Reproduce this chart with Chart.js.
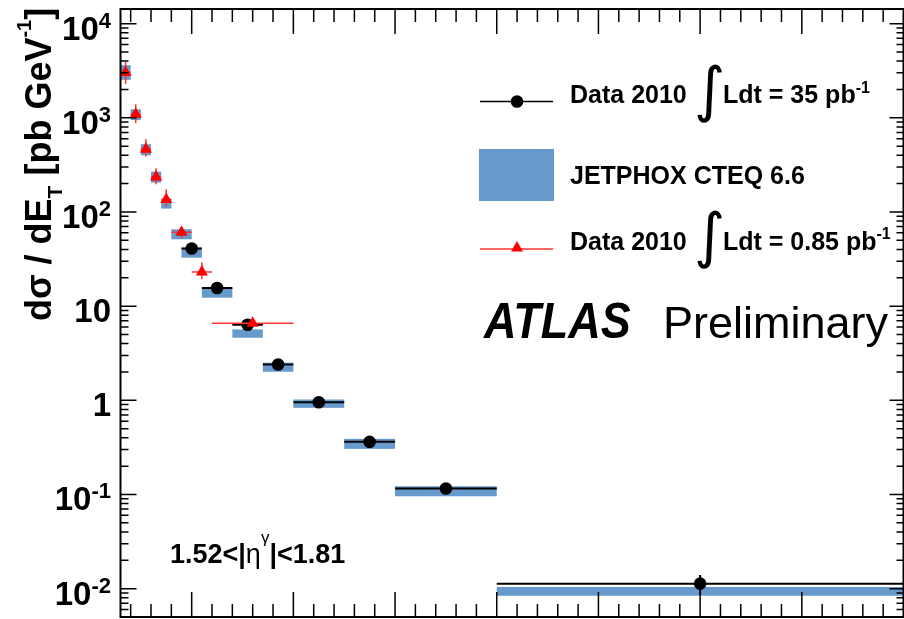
<!DOCTYPE html>
<html>
<head>
<meta charset="utf-8">
<script src="https://cdn.jsdelivr.net/npm/chart.js@4.4.1/dist/chart.umd.min.js"></script>
<style>
html, body { margin: 0; padding: 0; background: #fff; }
</style>
</head>
<body>
<canvas id="chart" width="904" height="619"></canvas>
<script>
// Data 2010, 35 pb-1 (E_T bins in GeV, d sigma / dE_T in pb/GeV)
const binLo35 = [45, 55, 70, 85, 100, 125, 150, 200];
const binHi35 = [55, 70, 85, 100, 125, 150, 200, 400];
const val35 = [41, 15.6, 6.35, 2.4, 0.955, 0.362, 0.1156, 0.0113];
const err35 = [1.2, 0.5, 0.22, 0.09, 0.04, 0.016, 0.006, 0.0027];

// Data 2010, 0.85 pb-1
const binLo085 = [15, 20, 25, 30, 35, 40, 50, 60];
const binHi085 = [20, 25, 30, 35, 40, 50, 60, 100];
const val085 = [3030, 1090, 463, 235, 136, 61, 23, 6.6];
const lo085 = [2280, 875, 387, 197, 114, 53, 19.3, 6.0];
const hi085 = [3930, 1390, 592, 292, 174, 69, 29.2, 7.3];

// JETPHOX CTEQ 6.6 band
const thLo = [15, 20, 25, 30, 35, 40, 45, 55, 70, 85, 100, 125, 150, 200];
const thHi = [20, 25, 30, 35, 40, 50, 55, 70, 85, 100, 125, 150, 200, 400];
const thMin = [2530, 948, 400, 205, 108.7, 51.3, 32.7, 12.3, 4.62, 2.01, 0.832, 0.305, 0.0957, 0.00841];
const thMax = [3620, 1233, 524, 268, 136.5, 65.5, 41.8, 15.7, 5.66, 2.51, 1.02, 0.39, 0.1222, 0.01042];

// axis ranges and tick labels
const xMin = 15, xMax = 400;
const yMin = 0.005, yMax = 14300;
const yDecades = [-2, -1, 0, 1, 2, 3, 4];

const BOLD = '"Liberation Sans", Arial, sans-serif';
const BLUE = '#6699cc';

function mid(lo, hi) {
    let out = [];
    for (let i = 0; i < lo.length; i++) out.push((lo[i] + hi[i]) / 2);
    return out;
}

const x35 = mid(binLo35, binHi35);
const x085 = mid(binLo085, binHi085);

// draw a list of text pieces one after the other
function richText(ctx, x, y, parts, align) {
    let w = 0;
    for (const p of parts) { ctx.font = p.f; w += ctx.measureText(p.t).width; }
    let cx = align === 'right' ? x - w : x;
    ctx.textAlign = 'left';
    ctx.textBaseline = 'alphabetic';
    for (const p of parts) {
        ctx.font = p.f;
        ctx.fillText(p.t, cx, y + (p.dy || 0));
        cx += ctx.measureText(p.t).width;
    }
}

const hepPlugin = {
    id: 'hep',
    beforeDatasetDraw(chart, args) {
        const ctx = chart.ctx;
        const x = chart.scales.x, y = chart.scales.y;
        ctx.save();
        if (args.index === 1) {
            // theory boxes
            ctx.fillStyle = BLUE;
            for (let i = 0; i < thLo.length; i++) {
                let x0 = x.getPixelForValue(thLo[i]), x1 = x.getPixelForValue(thHi[i]);
                let y0 = y.getPixelForValue(thMax[i]), y1 = y.getPixelForValue(thMin[i]);
                ctx.fillRect(x0, y0, x1 - x0, y1 - y0);
            }
            // 35 pb-1 error bars
            ctx.strokeStyle = '#000';
            ctx.lineWidth = 2;
            for (let i = 0; i < val35.length; i++) {
                let py = y.getPixelForValue(val35[i]);
                let px = x.getPixelForValue(x35[i]);
                ctx.beginPath();
                ctx.moveTo(x.getPixelForValue(binLo35[i]), py);
                ctx.lineTo(x.getPixelForValue(binHi35[i]), py);
                ctx.moveTo(px, y.getPixelForValue(val35[i] + err35[i]));
                ctx.lineTo(px, y.getPixelForValue(val35[i] - err35[i]));
                ctx.stroke();
            }
        } else {
            // 0.85 pb-1 error bars
            ctx.strokeStyle = '#ff3333';
            ctx.lineWidth = 1.5;
            for (let i = 0; i < val085.length; i++) {
                let py = y.getPixelForValue(val085[i]);
                let px = x.getPixelForValue(x085[i]);
                ctx.beginPath();
                ctx.moveTo(x.getPixelForValue(binLo085[i]), py);
                ctx.lineTo(x.getPixelForValue(binHi085[i]), py);
                ctx.moveTo(px, y.getPixelForValue(hi085[i]));
                ctx.lineTo(px, y.getPixelForValue(lo085[i]));
                ctx.stroke();
            }
        }
        ctx.restore();
    },
    afterDraw(chart) {
        const ctx = chart.ctx;
        const x = chart.scales.x, y = chart.scales.y;
        const a = chart.chartArea;
        ctx.save();
        ctx.strokeStyle = '#000';
        ctx.fillStyle = '#000';

        // ticks
        ctx.lineWidth = 1.5;
        ctx.beginPath();
        for (let v = 20; v < xMax; v += 10) {
            let px = x.getPixelForValue(v);
            let len = (v % 50 === 0) ? 25 : 13;
            ctx.moveTo(px, a.bottom); ctx.lineTo(px, a.bottom - len);
            ctx.moveTo(px, a.top); ctx.lineTo(px, a.top + len);
        }
        for (let k = -3; k <= 4; k++) {
            for (let m = 1; m <= 9; m++) {
                let v = m * Math.pow(10, k);
                if (v <= yMin * 1.001 || v >= yMax) continue;
                let py = y.getPixelForValue(v);
                let major = m === 1;
                ctx.moveTo(a.left, py); ctx.lineTo(a.left + (major ? 16 : 8), py);
                ctx.moveTo(a.right, py); ctx.lineTo(a.right - (major ? 14 : 7), py);
            }
        }
        ctx.stroke();

        // frame
        ctx.lineWidth = 2;
        ctx.strokeRect(a.left, a.top, a.right - a.left, a.bottom - a.top);

        // y tick labels
        for (const k of yDecades) {
            let py = y.getPixelForValue(Math.pow(10, k)) + 16;
            let parts;
            if (k === 0) parts = [{t: '1', f: 'bold 33px ' + BOLD}];
            else if (k === 1) parts = [{t: '10', f: 'bold 33px ' + BOLD}];
            else parts = [{t: '10', f: 'bold 33px ' + BOLD}, {t: String(k), f: 'bold 22px ' + BOLD, dy: -12}];
            richText(ctx, 111, py, parts, 'right');
        }

        // y axis title
        ctx.save();
        ctx.translate(51, 321);
        ctx.rotate(-Math.PI / 2);
        richText(ctx, 0, 0, [
            {t: 'd\u03c3 / dE', f: 'bold 36px ' + BOLD},
            {t: 'T', f: 'bold 21px ' + BOLD, dy: 11},
            {t: ' [pb GeV', f: 'bold 36px ' + BOLD},
            {t: '-1', f: 'bold 20px ' + BOLD, dy: -20},
            {t: ']', f: 'bold 36px ' + BOLD}
        ], 'left');
        ctx.restore();

        // legend
        ctx.lineWidth = 1.5;
        ctx.strokeStyle = '#000';
        ctx.beginPath(); ctx.moveTo(480, 101.5); ctx.lineTo(553, 101.5); ctx.stroke();
        ctx.beginPath(); ctx.arc(517, 101.5, 6.3, 0, Math.PI * 2); ctx.fill();

        ctx.fillStyle = BLUE;
        ctx.fillRect(479, 149, 75, 52);

        ctx.strokeStyle = '#ff3333';
        ctx.beginPath(); ctx.moveTo(480, 249); ctx.lineTo(553, 249); ctx.stroke();
        ctx.fillStyle = '#ff0000';
        ctx.beginPath();
        ctx.moveTo(517, 241); ctx.lineTo(523, 251.5); ctx.lineTo(511, 251.5); ctx.closePath();
        ctx.fill();

        ctx.fillStyle = '#000';
        const lf = 'bold 25px ' + BOLD;
        const intf = '60px "DejaVu Sans"';
        richText(ctx, 570, 103, [{t: 'Data 2010', f: lf}], 'left');
        richText(ctx, 694, 110, [{t: '\u222b', f: intf}], 'left');
        richText(ctx, 723, 103, [{t: 'Ldt = 35 pb', f: lf}, {t: '-1', f: 'bold 16px ' + BOLD, dy: -10}], 'left');
        richText(ctx, 570, 184, [{t: 'JETPHOX CTEQ 6.6', f: lf}], 'left');
        richText(ctx, 570, 250, [{t: 'Data 2010', f: lf}], 'left');
        richText(ctx, 694, 256, [{t: '\u222b', f: intf}], 'left');
        richText(ctx, 723, 250, [{t: 'Ldt = 0.85 pb', f: lf}, {t: '-1', f: 'bold 16px ' + BOLD, dy: -11}], 'left');

        // ATLAS Preliminary
        ctx.save();
        ctx.translate(484, 338);
        ctx.scale(0.9, 1);
        richText(ctx, 0, 0, [{t: 'ATLAS', f: 'italic bold 50px ' + BOLD}], 'left');
        ctx.restore();
        richText(ctx, 663, 338, [{t: 'Preliminary', f: '45px ' + BOLD}], 'left');

        // eta range
        richText(ctx, 170, 563, [
            {t: '1.52<|', f: 'bold 27px ' + BOLD},
            {t: '\u03b7', f: '27px ' + BOLD},
            {t: '\u03b3', f: '17px ' + BOLD, dy: -20},
            {t: '|<1.81', f: 'bold 27px ' + BOLD}
        ], 'left');

        ctx.restore();
    }
};

const ctx = document.getElementById('chart').getContext('2d');
const myChart = new Chart(ctx, {
    type: 'scatter',
    data: {
        datasets: [{
            label: 'Data 2010 0.85 pb-1',
            data: x085.map((v, i) => ({x: v, y: val085[i]})),
            pointStyle: 'triangle',
            pointRadius: 7,
            pointBackgroundColor: '#ff0000',
            pointBorderWidth: 0,
            borderColor: '#ff0000'
        }, {
            label: 'Data 2010 35 pb-1',
            data: x35.map((v, i) => ({x: v, y: val35[i]})),
            pointStyle: 'circle',
            pointRadius: 6.3,
            pointBackgroundColor: '#000',
            pointBorderWidth: 0,
            borderColor: '#000'
        }]
    },
    options: {
        responsive: false,
        animation: false,
        layout: { autoPadding: false, padding: { left: 120.5, right: 0.5, top: 9, bottom: 2 } },
        scales: {
            x: { type: 'linear', min: xMin, max: xMax, display: false },
            y: { type: 'logarithmic', min: yMin, max: yMax, display: false }
        },
        plugins: {
            legend: { display: false },
            tooltip: { enabled: false }
        }
    },
    plugins: [hepPlugin]
});
</script>
</body>
</html>
